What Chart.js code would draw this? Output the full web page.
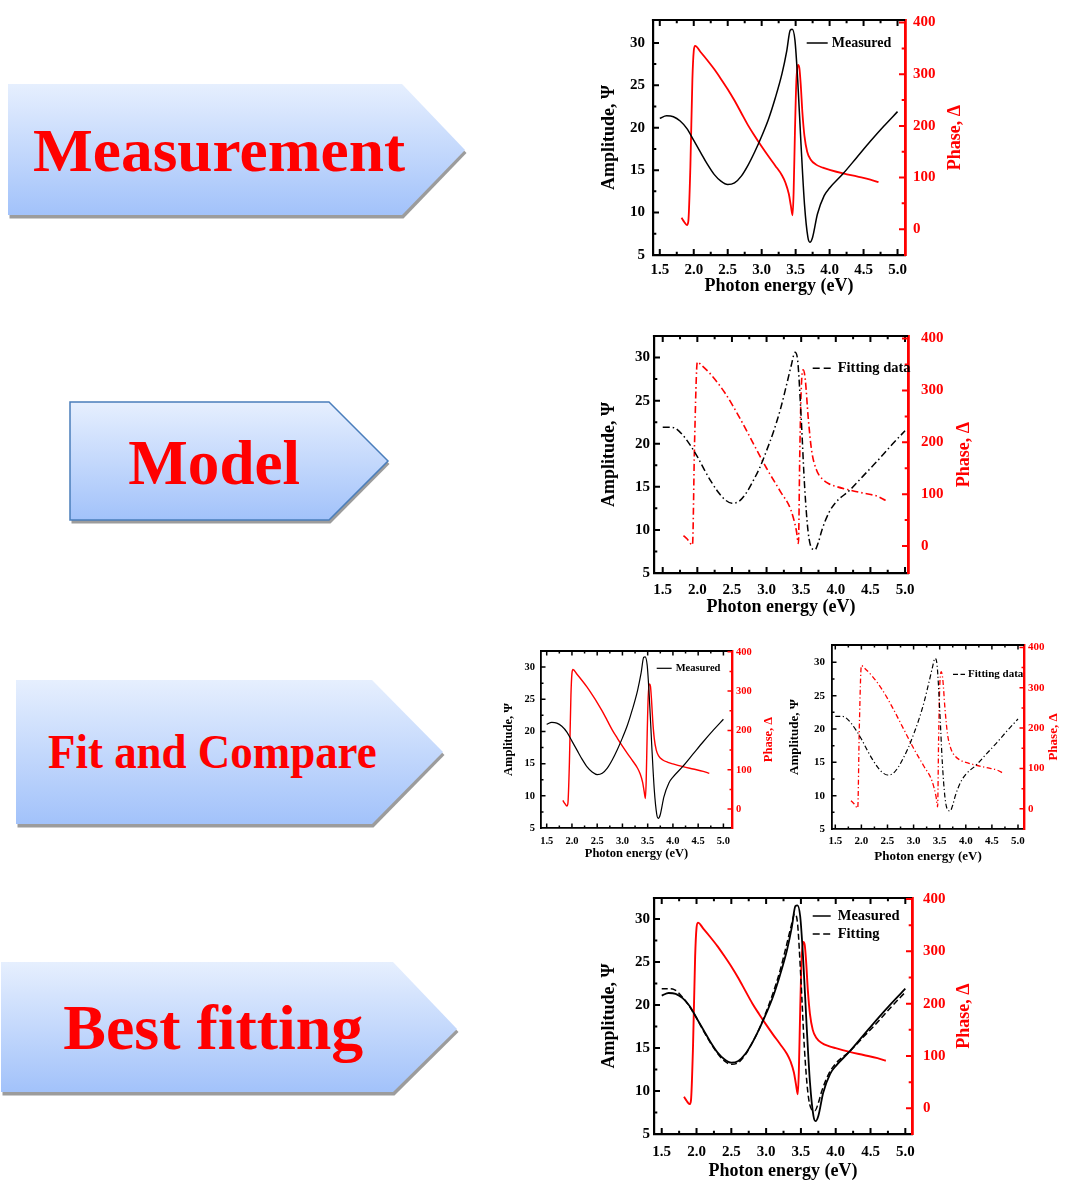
<!DOCTYPE html>
<html lang="en">
<head>
<meta charset="UTF-8" />
<title>Measurement, model, fit</title>
<script src="https://cdn.jsdelivr.net/npm/chart.js"></script>
<style>
  body { margin: 0; background: #fff; width: 1073px; height: 1180px; position: relative; overflow: hidden; }
  svg.steps { position: absolute; left: 0; top: 0; }
  canvas { position: absolute; }
</style>
</head>
<body>
<svg class="steps" width="1073" height="1180">
  <defs>
    <linearGradient id="blue" x1="0" y1="0" x2="0" y2="1">
      <stop offset="0" stop-color="#e6effe" />
      <stop offset="1" stop-color="#a2c2fa" />
    </linearGradient>
  </defs>
  <g font-family="'Liberation Serif', 'Times New Roman', serif" font-weight="bold" fill="#ff0000">
    <polygon points="9.5,87 403.5,87 466.5,153 403.5,218.5 9.5,218.5" fill="#9c9c9c" />
    <polygon points="8,84 402,84 465,150 402,215 8,215" fill="url(#blue)" />
    <text x="33" y="170.7" font-size="61" textLength="372" lengthAdjust="spacingAndGlyphs">Measurement</text>

    <polygon points="71.5,405 330.5,405 389.5,464 330.5,523.5 71.5,523.5" fill="#9c9c9c" />
    <polygon points="70,402 329,402 388,461 329,520 70,520" fill="url(#blue)" stroke="#4a7ebb" stroke-width="1.5" />
    <text x="128.3" y="484.3" font-size="64" textLength="171.7" lengthAdjust="spacingAndGlyphs">Model</text>

    <polygon points="17.5,683 373.5,683 444.5,755 373.5,827.5 17.5,827.5" fill="#9c9c9c" />
    <polygon points="16,680 372,680 443,752 372,824 16,824" fill="url(#blue)" />
    <text x="48" y="768.3" font-size="48" textLength="328.7" lengthAdjust="spacingAndGlyphs">Fit and Compare</text>

    <polygon points="2.5,965 394.5,965 458.5,1032 394.5,1095.5 2.5,1095.5" fill="#9c9c9c" />
    <polygon points="1,962 393,962 457,1029 393,1092 1,1092" fill="url(#blue)" />
    <text x="63.3" y="1049.3" font-size="63" textLength="300" lengthAdjust="spacingAndGlyphs">Best fitting</text>
  </g>
</svg>

<canvas id="measChart"></canvas>
<canvas id="modelChart"></canvas>
<canvas id="cmpMeasChart"></canvas>
<canvas id="cmpModelChart"></canvas>
<canvas id="bestChart"></canvas>

<script>
// tick values and labels
const energyTicks = [1.5, 2.0, 2.5, 3.0, 3.5, 4.0, 4.5, 5.0];
const energyTickLabels = ['1.5', '2.0', '2.5', '3.0', '3.5', '4.0', '4.5', '5.0'];
const psiTicks = [5, 10, 15, 20, 25, 30];
const psiTickLabels = ['5', '10', '15', '20', '25', '30'];
const deltaTicks = [0, 100, 200, 300, 400];
const deltaTickLabels = ['0', '100', '200', '300', '400'];

// measured amplitude (psi)
const measPsiE = [1.5, 1.6, 1.7, 1.8, 1.9, 2.0, 2.1, 2.2, 2.3, 2.4, 2.5, 2.6, 2.7, 2.8, 2.9, 3.0, 3.1, 3.2, 3.3, 3.37,
    3.42, 3.45, 3.49, 3.53, 3.58, 3.63, 3.68, 3.71, 3.75, 3.82, 3.92, 4.0, 4.2, 4.4, 4.6, 4.8, 5.0];
const measPsi = [21.1, 21.4, 21.3, 20.8, 19.9, 18.5, 17.1, 15.7, 14.5, 13.7, 13.3, 13.5, 14.3, 15.6, 17.2, 19.0, 21.0, 23.5, 26.4, 29.1,
    31.5, 31.6, 30.3, 25.7, 17.9, 11.0, 7.1, 6.5, 7.1, 9.8, 12.0, 12.9, 14.6, 16.5, 18.4, 20.2, 21.9];

// measured phase (delta)
const measDeltaE = [1.82, 1.86, 1.9, 1.92, 1.95, 1.98, 2.0, 2.02, 2.1, 2.2, 2.3, 2.4, 2.5, 2.6, 2.7, 2.8, 2.9, 3.0, 3.1, 3.2, 3.3,
    3.35, 3.4, 3.43, 3.455, 3.47, 3.49, 3.51, 3.535, 3.555, 3.575, 3.6, 3.63, 3.67, 3.72, 3.8, 3.9, 4.0, 4.2, 4.4, 4.6, 4.72];
const measDelta = [22, 14, 8, 15, 120, 290, 345, 355, 343, 327, 310, 291, 271, 249, 225, 201, 180, 160, 141, 123, 104,
    90, 68, 45, 27, 70, 190, 285, 318, 312, 280, 225, 180, 150, 135, 125, 119, 115, 108, 102, 96, 91];

// fitted (model) amplitude
const fitPsiE = [1.5, 1.6, 1.68, 1.8, 1.9, 2.0, 2.1, 2.2, 2.3, 2.4, 2.5, 2.6, 2.7, 2.8, 2.9, 3.0, 3.1, 3.2, 3.3, 3.36,
    3.41, 3.45, 3.5, 3.55, 3.6, 3.65, 3.7, 3.75, 3.8, 3.9, 4.0, 4.2, 4.4, 4.6, 4.8, 5.0];
const fitPsi = [21.9, 21.9, 21.8, 20.9, 19.8, 18.5, 17.0, 15.6, 14.4, 13.5, 13.1, 13.3, 14.2, 15.6, 17.2, 19.2, 21.4, 24.0, 27.2, 29.2,
    30.6, 29.6, 23.0, 15.0, 9.8, 7.9, 7.7, 8.6, 10.0, 12.0, 13.2, 14.6, 16.3, 18.0, 19.8, 21.5];

// fitted (model) phase
const fitDeltaE = [1.8, 1.85, 1.93, 1.96, 2.0, 2.05, 2.2, 2.4, 2.6, 2.8, 3.0, 3.2, 3.35, 3.43, 3.46, 3.48, 3.5, 3.53, 3.56,
    3.6, 3.65, 3.72, 3.8, 3.9, 4.0, 4.2, 4.4, 4.6, 4.72];
const fitDelta = [20, 14, 2, 200, 355, 350, 330, 295, 250, 200, 150, 105, 70, 30, 5, 180, 300, 340, 320,
    250, 185, 147, 130, 120, 115, 108, 102, 96, 88];

const pairs = (xs, ys) => xs.map((x, i) => ({ x: x, y: ys[i] }));

Chart.defaults.font.family = '"Liberation Serif", "Times New Roman", serif';
Chart.defaults.font.weight = 'bold';

function minorOf(ticks, min, max) {
    const step = ticks[1] - ticks[0];
    const out = [];
    for (let i = -1; i < ticks.length; i++) {
        const v = ticks[0] + (i + 0.5) * step;
        if (v > min + step * 0.05 && v < max - step * 0.05) out.push(v);
    }
    return out;
}

// inward ticks, top frame line and the right axis title
const frameTicks = {
    id: 'frameTicks',
    afterDatasetsDraw(chart, args, o) {
        const { ctx, chartArea: a, scales } = chart;
        ctx.save();
        ctx.lineWidth = o.frame;
        ctx.strokeStyle = '#000';
        ctx.beginPath();
        ctx.moveTo(a.left - o.frame / 2, a.top);
        ctx.lineTo(a.right, a.top);
        ctx.stroke();

        ctx.lineWidth = o.tickWidth;
        const mark = (scale, values, len, color) => {
            ctx.strokeStyle = color;
            ctx.beginPath();
            values.forEach(v => {
                const p = scale.getPixelForValue(v);
                if (scale.axis === 'x') {
                    ctx.moveTo(p, a.bottom); ctx.lineTo(p, a.bottom - len);
                    ctx.moveTo(p, a.top); ctx.lineTo(p, a.top + len);
                } else if (scale.position === 'left') {
                    ctx.moveTo(a.left, p); ctx.lineTo(a.left + len, p);
                } else {
                    ctx.moveTo(a.right, p); ctx.lineTo(a.right - len, p);
                }
            });
            ctx.stroke();
        };
        const sx = scales.x, sy = scales.y, sr = scales.y1;
        mark(sx, energyTicks, o.major, '#000');
        mark(sx, minorOf(energyTicks, sx.min, sx.max), o.minor, '#000');
        mark(sy, psiTicks.filter(v => v > sy.min + 0.3), o.major, '#000');
        mark(sy, minorOf(psiTicks, sy.min, sy.max), o.minor, '#000');
        mark(sr, deltaTicks, o.major, '#ff0000');
        mark(sr, minorOf(deltaTicks, sr.min, sr.max), o.minor, '#ff0000');

        // right title reads bottom-to-top like the left one
        ctx.fillStyle = '#ff0000';
        ctx.font = 'bold ' + o.titleSize + 'px "Liberation Serif", serif';
        ctx.textAlign = 'center';
        ctx.textBaseline = 'middle';
        ctx.translate(a.right + o.rightWidth - o.titleSize * 0.6, (a.top + a.bottom) / 2);
        ctx.rotate(-Math.PI / 2);
        ctx.fillText('Phase, \u0394', 0, 0);
        ctx.restore();
    }
};

const insideLegend = {
    id: 'insideLegend',
    afterDraw(chart, args, o) {
        const ctx = chart.ctx;
        o.items.forEach((it, i) => {
            const ds = chart.data.datasets[it.dataset];
            const y = o.y + i * o.gap;
            ctx.save();
            ctx.strokeStyle = '#000';
            ctx.lineWidth = o.lineWidth;
            ctx.setLineDash(it.dash);
            ctx.beginPath();
            ctx.moveTo(o.x, y);
            ctx.lineTo(o.x + o.len, y);
            ctx.stroke();
            ctx.setLineDash([]);
            ctx.fillStyle = '#000';
            ctx.font = 'bold ' + o.size + 'px "Liberation Serif", serif';
            ctx.textBaseline = 'middle';
            ctx.fillText(ds.label, o.x + o.len + o.space, y);
            ctx.restore();
        });
    }
};

function makeChart(cfg) {
    const TP = 14;
    const canvas = document.getElementById(cfg.id);
    const left = cfg.L - cfg.LW;
    const top = cfg.T - TP;
    canvas.width = cfg.LW + (cfg.R - cfg.L) + cfg.RW;
    canvas.height = TP + (cfg.B - cfg.T) + cfg.BH;
    canvas.style.left = left + 'px';
    canvas.style.top = top + 'px';

    const tickFont = { size: cfg.tick, weight: 'bold' };
    const titleFont = { size: cfg.title, weight: 'bold' };

    return new Chart(canvas.getContext('2d'), {
        type: 'line',
        data: { datasets: cfg.datasets },
        options: {
            responsive: false,
            animation: false,
            layout: { padding: { top: TP, left: 0, right: 0, bottom: 0 } },
            elements: { point: { radius: 0 }, line: { cubicInterpolationMode: 'monotone' } },
            plugins: {
                legend: { display: false },
                tooltip: { enabled: false },
                frameTicks: {
                    frame: cfg.frame, tickWidth: cfg.tickWidth, major: cfg.major, minor: cfg.minor,
                    titleSize: cfg.title, rightWidth: cfg.RW
                },
                insideLegend: cfg.legend
            },
            scales: {
                x: {
                    type: 'linear',
                    min: cfg.x[0], max: cfg.x[1],
                    afterBuildTicks: s => { s.ticks = energyTicks.map(v => ({ value: v })); },
                    afterFit: s => { s.height = cfg.BH; },
                    grid: { display: true, drawOnChartArea: false, drawTicks: false },
                    border: { display: true, color: '#000', width: cfg.frame },
                    ticks: {
                        autoSkip: false, maxRotation: 0, padding: cfg.padX, color: '#000', font: tickFont,
                        callback: (v, i) => energyTickLabels[i]
                    },
                    title: { display: true, text: 'Photon energy (eV)', color: '#000', padding: 0, font: titleFont }
                },
                y: {
                    type: 'linear', position: 'left',
                    min: cfg.psi[0], max: cfg.psi[1],
                    afterBuildTicks: s => { s.ticks = psiTicks.map(v => ({ value: v })); },
                    afterFit: s => { s.width = cfg.LW; },
                    grid: { display: true, drawOnChartArea: false, drawTicks: false },
                    border: { display: true, color: '#000', width: cfg.frame },
                    ticks: { padding: cfg.padL, color: '#000', font: tickFont, callback: (v, i) => psiTickLabels[i] },
                    title: { display: true, text: 'Amplitude, \u03A8', color: '#000', padding: 0, font: titleFont }
                },
                y1: {
                    type: 'linear', position: 'right',
                    min: cfg.del[0], max: cfg.del[1],
                    afterBuildTicks: s => { s.ticks = deltaTicks.map(v => ({ value: v })); },
                    afterFit: s => { s.width = cfg.RW; },
                    grid: { display: true, drawOnChartArea: false, drawTicks: false },
                    border: { display: true, color: '#ff0000', width: cfg.frame + 0.6 },
                    ticks: { padding: cfg.padR, color: '#ff0000', font: tickFont, callback: (v, i) => deltaTickLabels[i] },
                    title: { display: false }
                }
            }
        },
        plugins: [frameTicks, insideLegend]
    });
}

function legendAt(cfg, px, py, extra) {
    // convert page coordinates to canvas coordinates
    return Object.assign({ x: px - (cfg.L - cfg.LW), y: py - (cfg.T - 14) }, extra);
}

// Measurement
const c1 = {
    id: 'measChart', L: 653, R: 905, T: 17, B: 255, LW: 54, RW: 61, BH: 42,
    x: [1.4, 5.11], psi: [5, 32.7], del: [-50, 405],
    tick: 15, title: 18, padX: 6, padL: 8, padR: 8,
    frame: 2.2, tickWidth: 2, major: 6, minor: 3.3,
    datasets: [
        { label: 'Measured', data: pairs(measPsiE, measPsi), yAxisID: 'y', borderColor: '#000', borderWidth: 1.5 },
        { label: 'Phase', data: pairs(measDeltaE, measDelta), yAxisID: 'y1', borderColor: '#ff0000', borderWidth: 1.8 }
    ]
};
c1.legend = legendAt(c1, 806.7, 43, { len: 21, space: 4, size: 14, gap: 18, lineWidth: 1.5, items: [{ dataset: 0, dash: [] }] });
makeChart(c1);

// Model
const c2 = {
    id: 'modelChart', L: 654, R: 908, T: 328, B: 573, LW: 55, RW: 67, BH: 45,
    x: [1.374, 5.043], psi: [5, 32.5], del: [-52, 405],
    tick: 15, title: 18, padX: 8, padL: 4, padR: 13,
    frame: 2.2, tickWidth: 2, major: 6, minor: 3.3,
    datasets: [
        { label: 'Fitting data', data: pairs(fitPsiE, fitPsi), yAxisID: 'y', borderColor: '#000', borderWidth: 1.5, borderDash: [7, 3, 1.5, 3] },
        { label: 'Phase', data: pairs(fitDeltaE, fitDelta), yAxisID: 'y1', borderColor: '#ff0000', borderWidth: 1.6, borderDash: [7, 3, 1.5, 3] }
    ]
};
c2.legend = legendAt(c2, 812.7, 368.3, { len: 18, space: 7, size: 14.5, gap: 18, lineWidth: 1.5, items: [{ dataset: 0, dash: [7, 4] }] });
makeChart(c2);

// Fit and compare: measured
const c3 = {
    id: 'cmpMeasChart', L: 541, R: 732, T: 651, B: 828, LW: 40, RW: 44, BH: 33,
    x: [1.387, 5.17], psi: [5, 32.5], del: [-48, 402],
    tick: 10.5, title: 12.5, padX: 7, padL: 6, padR: 4,
    frame: 1.8, tickWidth: 1.5, major: 4.5, minor: 2.5,
    datasets: [
        { label: 'Measured', data: pairs(measPsiE, measPsi), yAxisID: 'y', borderColor: '#000', borderWidth: 1.2 },
        { label: 'Phase', data: pairs(measDeltaE, measDelta), yAxisID: 'y1', borderColor: '#ff0000', borderWidth: 1.4 }
    ]
};
c3.legend = legendAt(c3, 656.7, 668.3, { len: 15, space: 4, size: 10.5, gap: 14, lineWidth: 1.2, items: [{ dataset: 0, dash: [] }] });
makeChart(c3);

// Fit and compare: model
const c4 = {
    id: 'cmpModelChart', L: 832, R: 1024, T: 645, B: 829, LW: 45, RW: 37, BH: 35,
    x: [1.437, 5.115], psi: [5, 32.6], del: [-50, 406],
    tick: 11, title: 13, padX: 6, padL: 7, padR: 4,
    frame: 1.8, tickWidth: 1.5, major: 4.5, minor: 2.5,
    datasets: [
        { label: 'Fitting data', data: pairs(fitPsiE, fitPsi), yAxisID: 'y', borderColor: '#000', borderWidth: 1.2, borderDash: [5, 2.5, 1.2, 2.5] },
        { label: 'Phase', data: pairs(fitDeltaE, fitDelta), yAxisID: 'y1', borderColor: '#ff0000', borderWidth: 1.3, borderDash: [5, 2.5, 1.2, 2.5] }
    ]
};
c4.legend = legendAt(c4, 953, 674.3, { len: 12, space: 3, size: 11, gap: 14, lineWidth: 1.2, items: [{ dataset: 0, dash: [5, 2.5] }] });
makeChart(c4);

// Best fitting
const c5 = {
    id: 'bestChart', L: 654, R: 912, T: 892, B: 1134.5, LW: 55, RW: 63, BH: 48,
    x: [1.389, 5.096], psi: [5, 32.45], del: [-49, 402],
    tick: 15, title: 18, padX: 9, padL: 4, padR: 11,
    frame: 2.2, tickWidth: 2, major: 6, minor: 3.3,
    datasets: [
        { label: 'Measured', data: pairs(measPsiE, measPsi), yAxisID: 'y', borderColor: '#000', borderWidth: 1.8 },
        { label: 'Fitting', data: pairs(fitPsiE, fitPsi), yAxisID: 'y', borderColor: '#000', borderWidth: 1.5, borderDash: [6, 3] },
        { label: 'Phase', data: pairs(measDeltaE, measDelta), yAxisID: 'y1', borderColor: '#ff0000', borderWidth: 1.9 }
    ]
};
c5.legend = legendAt(c5, 812.7, 916, { len: 18, space: 7, size: 14.5, gap: 18, lineWidth: 1.5, items: [{ dataset: 0, dash: [] }, { dataset: 1, dash: [7, 3.5] }] });
makeChart(c5);
</script>
</body>
</html>
